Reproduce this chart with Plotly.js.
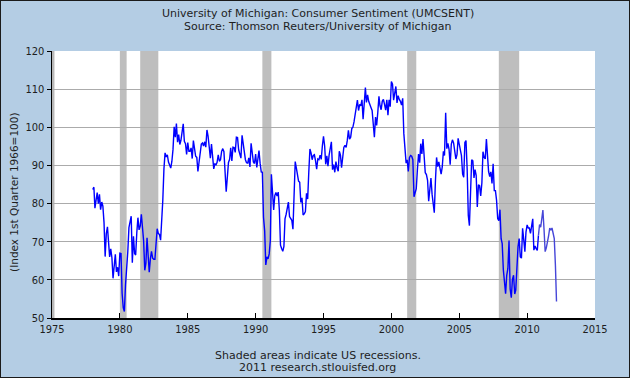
<!DOCTYPE html>
<html>
<head>
<meta charset="utf-8">
<script src="https://cdn.plot.ly/plotly-3.0.1.min.js"></script>
<style>
html,body{margin:0;padding:0;background:#b4cde4;}
#wrap{position:relative;width:630px;height:378px;}
#chart{width:630px;height:378px;}
#frame{position:absolute;left:0;top:0;width:628px;height:376px;border:1px solid #1a1a1a;pointer-events:none;}
</style>
</head>
<body>
<div id="wrap"><div id="chart"></div><div id="frame"></div></div>
<script>
// Monthly values, Jan 1978 onward
const startYear = 1978;
const sentiment = [
// 1978
83.7, 84.3, 78.8, 81.6, 82.9, 80.0, 82.4, 78.4, 80.4, 79.3, 75.0, 66.1,
// 1979
72.1, 73.9, 68.4, 66.0, 68.1, 65.8, 60.4, 64.5, 66.7, 62.1, 63.3, 61.0,
// 1980
67.0, 66.9, 56.5, 52.7, 51.7, 58.7, 62.3, 67.3, 73.7, 75.0, 76.7, 64.5,
// 1981
71.4, 66.9, 66.5, 72.4, 76.3, 73.1, 74.1, 77.2, 73.1, 70.3, 62.5, 64.3,
// 1982
71.0, 66.5, 62.0, 65.5, 67.5, 65.7, 65.4, 65.4, 69.3, 73.4, 72.1, 71.9,
// 1983
70.4, 74.6, 80.8, 89.1, 93.3, 92.2, 92.8, 90.9, 89.9, 89.3, 91.1, 94.2,
// 1984
100.1, 97.4, 101.0, 96.1, 98.1, 95.5, 96.6, 99.1, 100.9, 96.3, 95.7, 92.9,
// 1985
96.0, 93.7, 93.7, 94.6, 91.8, 96.5, 94.0, 92.4, 92.1, 88.4, 90.9, 93.9,
// 1986
95.6, 95.9, 95.1, 96.2, 94.8, 99.3, 97.7, 94.9, 91.9, 95.6, 91.4, 89.1,
// 1987
90.4, 90.2, 90.8, 92.8, 91.1, 91.5, 93.7, 94.4, 93.6, 89.3, 83.1, 86.8,
// 1988
90.8, 91.6, 94.6, 91.2, 94.8, 94.7, 93.4, 97.4, 97.3, 94.1, 93.0, 91.9,
// 1989
97.9, 95.4, 94.3, 91.5, 90.7, 90.6, 92.0, 89.6, 95.8, 93.9, 90.9, 90.5,
// 1990
93.0, 89.5, 91.3, 93.9, 90.6, 88.3, 88.2, 76.4, 72.8, 63.9, 66.0, 65.5,
// 1991
66.8, 70.4, 87.7, 81.8, 78.3, 82.1, 82.9, 82.0, 83.0, 78.3, 69.1, 68.2,
// 1992
67.5, 68.8, 76.0, 77.2, 79.2, 80.4, 76.6, 76.1, 75.6, 73.3, 85.3, 91.0,
// 1993
89.3, 86.6, 85.9, 85.6, 80.3, 81.5, 77.0, 77.3, 77.9, 82.7, 81.2, 88.2,
// 1994
94.3, 93.2, 91.5, 92.6, 92.8, 91.2, 89.0, 91.7, 91.5, 92.7, 91.6, 95.1,
// 1995
97.6, 95.1, 90.3, 92.5, 89.8, 92.7, 94.4, 96.2, 88.9, 90.2, 88.2, 91.0,
// 1996
89.3, 88.5, 93.7, 92.7, 89.4, 92.4, 94.7, 95.3, 94.7, 96.5, 99.2, 96.9,
// 1997
97.4, 99.7, 100.0, 101.4, 103.2, 104.5, 107.1, 104.4, 106.0, 105.6, 107.2, 102.1,
// 1998
106.6, 110.4, 106.5, 108.5, 106.8, 105.6, 105.2, 104.4, 100.9, 97.4, 102.7, 100.5,
// 1999
103.9, 108.1, 105.7, 104.6, 106.8, 107.3, 106.0, 104.5, 107.2, 103.2, 107.2, 105.4,
// 2000
112.0, 111.3, 107.1, 109.2, 110.7, 106.4, 108.3, 107.3, 106.8, 105.8, 107.6, 98.4,
// 2001
94.7, 90.6, 91.5, 88.4, 92.0, 92.6, 92.4, 91.5, 81.8, 82.7, 83.9, 88.8,
// 2002
93.0, 90.7, 95.7, 93.0, 96.9, 92.4, 88.1, 87.6, 86.1, 80.6, 84.2, 86.7,
// 2003
82.4, 79.9, 77.6, 86.0, 92.1, 89.7, 90.9, 89.3, 87.7, 89.6, 93.7, 92.6,
// 2004
103.8, 94.4, 95.8, 94.2, 90.2, 95.6, 96.7, 95.9, 94.2, 91.7, 92.8, 97.1,
// 2005
95.5, 94.1, 92.6, 87.7, 86.9, 96.0, 96.5, 89.1, 76.9, 74.2, 81.6, 91.5,
// 2006
91.2, 86.7, 88.9, 87.4, 79.1, 84.9, 84.7, 82.0, 85.4, 93.6, 92.1, 91.7,
// 2007
96.9, 91.3, 88.4, 87.1, 88.3, 85.3, 90.4, 83.4, 83.4, 80.9, 76.1, 75.5,
// 2008
78.4, 70.8, 69.5, 62.6, 59.8, 56.4, 61.2, 63.0, 70.3, 57.6, 55.3, 60.1,
// 2009
61.2, 56.3, 57.3, 65.1, 68.7, 70.8, 66.0, 65.7, 73.5, 70.6, 67.4, 72.5,
// 2010
74.4, 73.6, 73.6, 72.2, 73.6, 76.0, 67.8, 68.9, 68.2, 67.7, 71.6, 74.5,
// 2011
73.8, 75.6, 78.3, 73.2, 67.4, 68.4, 70.6, 71.5, 73.6, 73.0, 73.6, 72.2,
// 2012
70.8, 63.8, 54.3
];
// index (months from Jan 1978) where the lighter tail segment begins
const tailStart = 394; // Nov 2010

const recStart = ['1980-01-01','1981-07-01','1990-07-01','2001-03-01','2007-12-01'];
const recEnd   = ['1980-07-01','1982-11-01','1991-03-01','2001-11-01','2009-06-01'];

const xTicks = ['1975','1980','1985','1990','1995','2000','2005','2010','2015'];
const yTicks = [50,60,70,80,90,100,110,120];

function monthDate(i){
  const y = startYear + Math.floor(i/12);
  const m = (i%12)+1;
  return y + '-' + (m<10?'0':'') + m + '-01';
}
const dates = sentiment.map((v,i)=>monthDate(i));

const tickFont = "'DejaVu Sans Condensed', 'DejaVu Sans', Verdana, sans-serif";
const textFont = "'DejaVu Sans', Verdana, sans-serif";

const traces = [
  {x: dates.slice(0, tailStart+1), y: sentiment.slice(0, tailStart+1), type:'scatter', mode:'lines',
   line:{color:'#0000ff', width:1.4}, hoverinfo:'x+y'},
  {x: dates.slice(tailStart), y: sentiment.slice(tailStart), type:'scatter', mode:'lines',
   line:{color:'#4646d8', width:1.4}, hoverinfo:'x+y'}
];

const shapes = recStart.map((s,i)=>({
  type:'rect', xref:'x', yref:'paper', x0:s, x1:recEnd[i], y0:0, y1:1,
  fillcolor:'#bebebe', line:{width:0}, layer:'between'
}));
// left inner shadow strip of the plot frame
shapes.push({type:'rect', xref:'paper', yref:'paper', x0:0, x1:0.0045, y0:0, y1:1,
  fillcolor:'#b8b8b8', line:{width:0}, layer:'between'});

const ann = (text, x, y, extra) => Object.assign({text, x, y, xref:'paper', yref:'paper',
  showarrow:false, xanchor:'center', yanchor:'middle', font:{family:textFont, size:11, color:'#1e1e1e'}}, extra||{});

const layout = {
  width:630, height:378,
  paper_bgcolor:'#b4cde4', plot_bgcolor:'#ffffff',
  margin:{l:52, r:35, t:51, b:60},
  showlegend:false,
  xaxis:{type:'date', range:['1975-01-01','2015-01-01'],
    tickvals: xTicks.map(t=>t+'-01-01'), ticktext: xTicks,
    ticks:'inside', ticklen:5, tickcolor:'#000', showgrid:false, zeroline:false,
    showline:true, linecolor:'#000', linewidth:1.5,
    tickfont:{family:tickFont, size:11, color:'#1e1e1e'}, fixedrange:true},
  yaxis:{range:[50,120], tickvals:yTicks, ticks:'outside', ticklen:4, tickcolor:'#000',
    showgrid:true, gridcolor:'#ababab', gridwidth:1, zeroline:false,
    showline:true, linecolor:'#000', linewidth:1.5,
    tickfont:{family:tickFont, size:11, color:'#1e1e1e'}, fixedrange:true},
  shapes: shapes,
  annotations:[
    ann('University of Michigan: Consumer Sentiment (UMCSENT)', 0.489, 1.1386),
    ann('Source: Thomson Reuters/University of Michigan', 0.489, 1.0899),
    ann('Shaded areas indicate US recessions.', 0.489, -0.1386),
    ann('2011 research.stlouisfed.org', 0.489, -0.187),
    ann('(Index 1st Quarter 1966=100)', -0.07, 0.472, {textangle:-90, font:{family:textFont, size:10.5, color:'#1e1e1e'}})
  ]
};

Plotly.newPlot('chart', traces, layout, {staticPlot:true, displayModeBar:false});
</script>
</body>
</html>
